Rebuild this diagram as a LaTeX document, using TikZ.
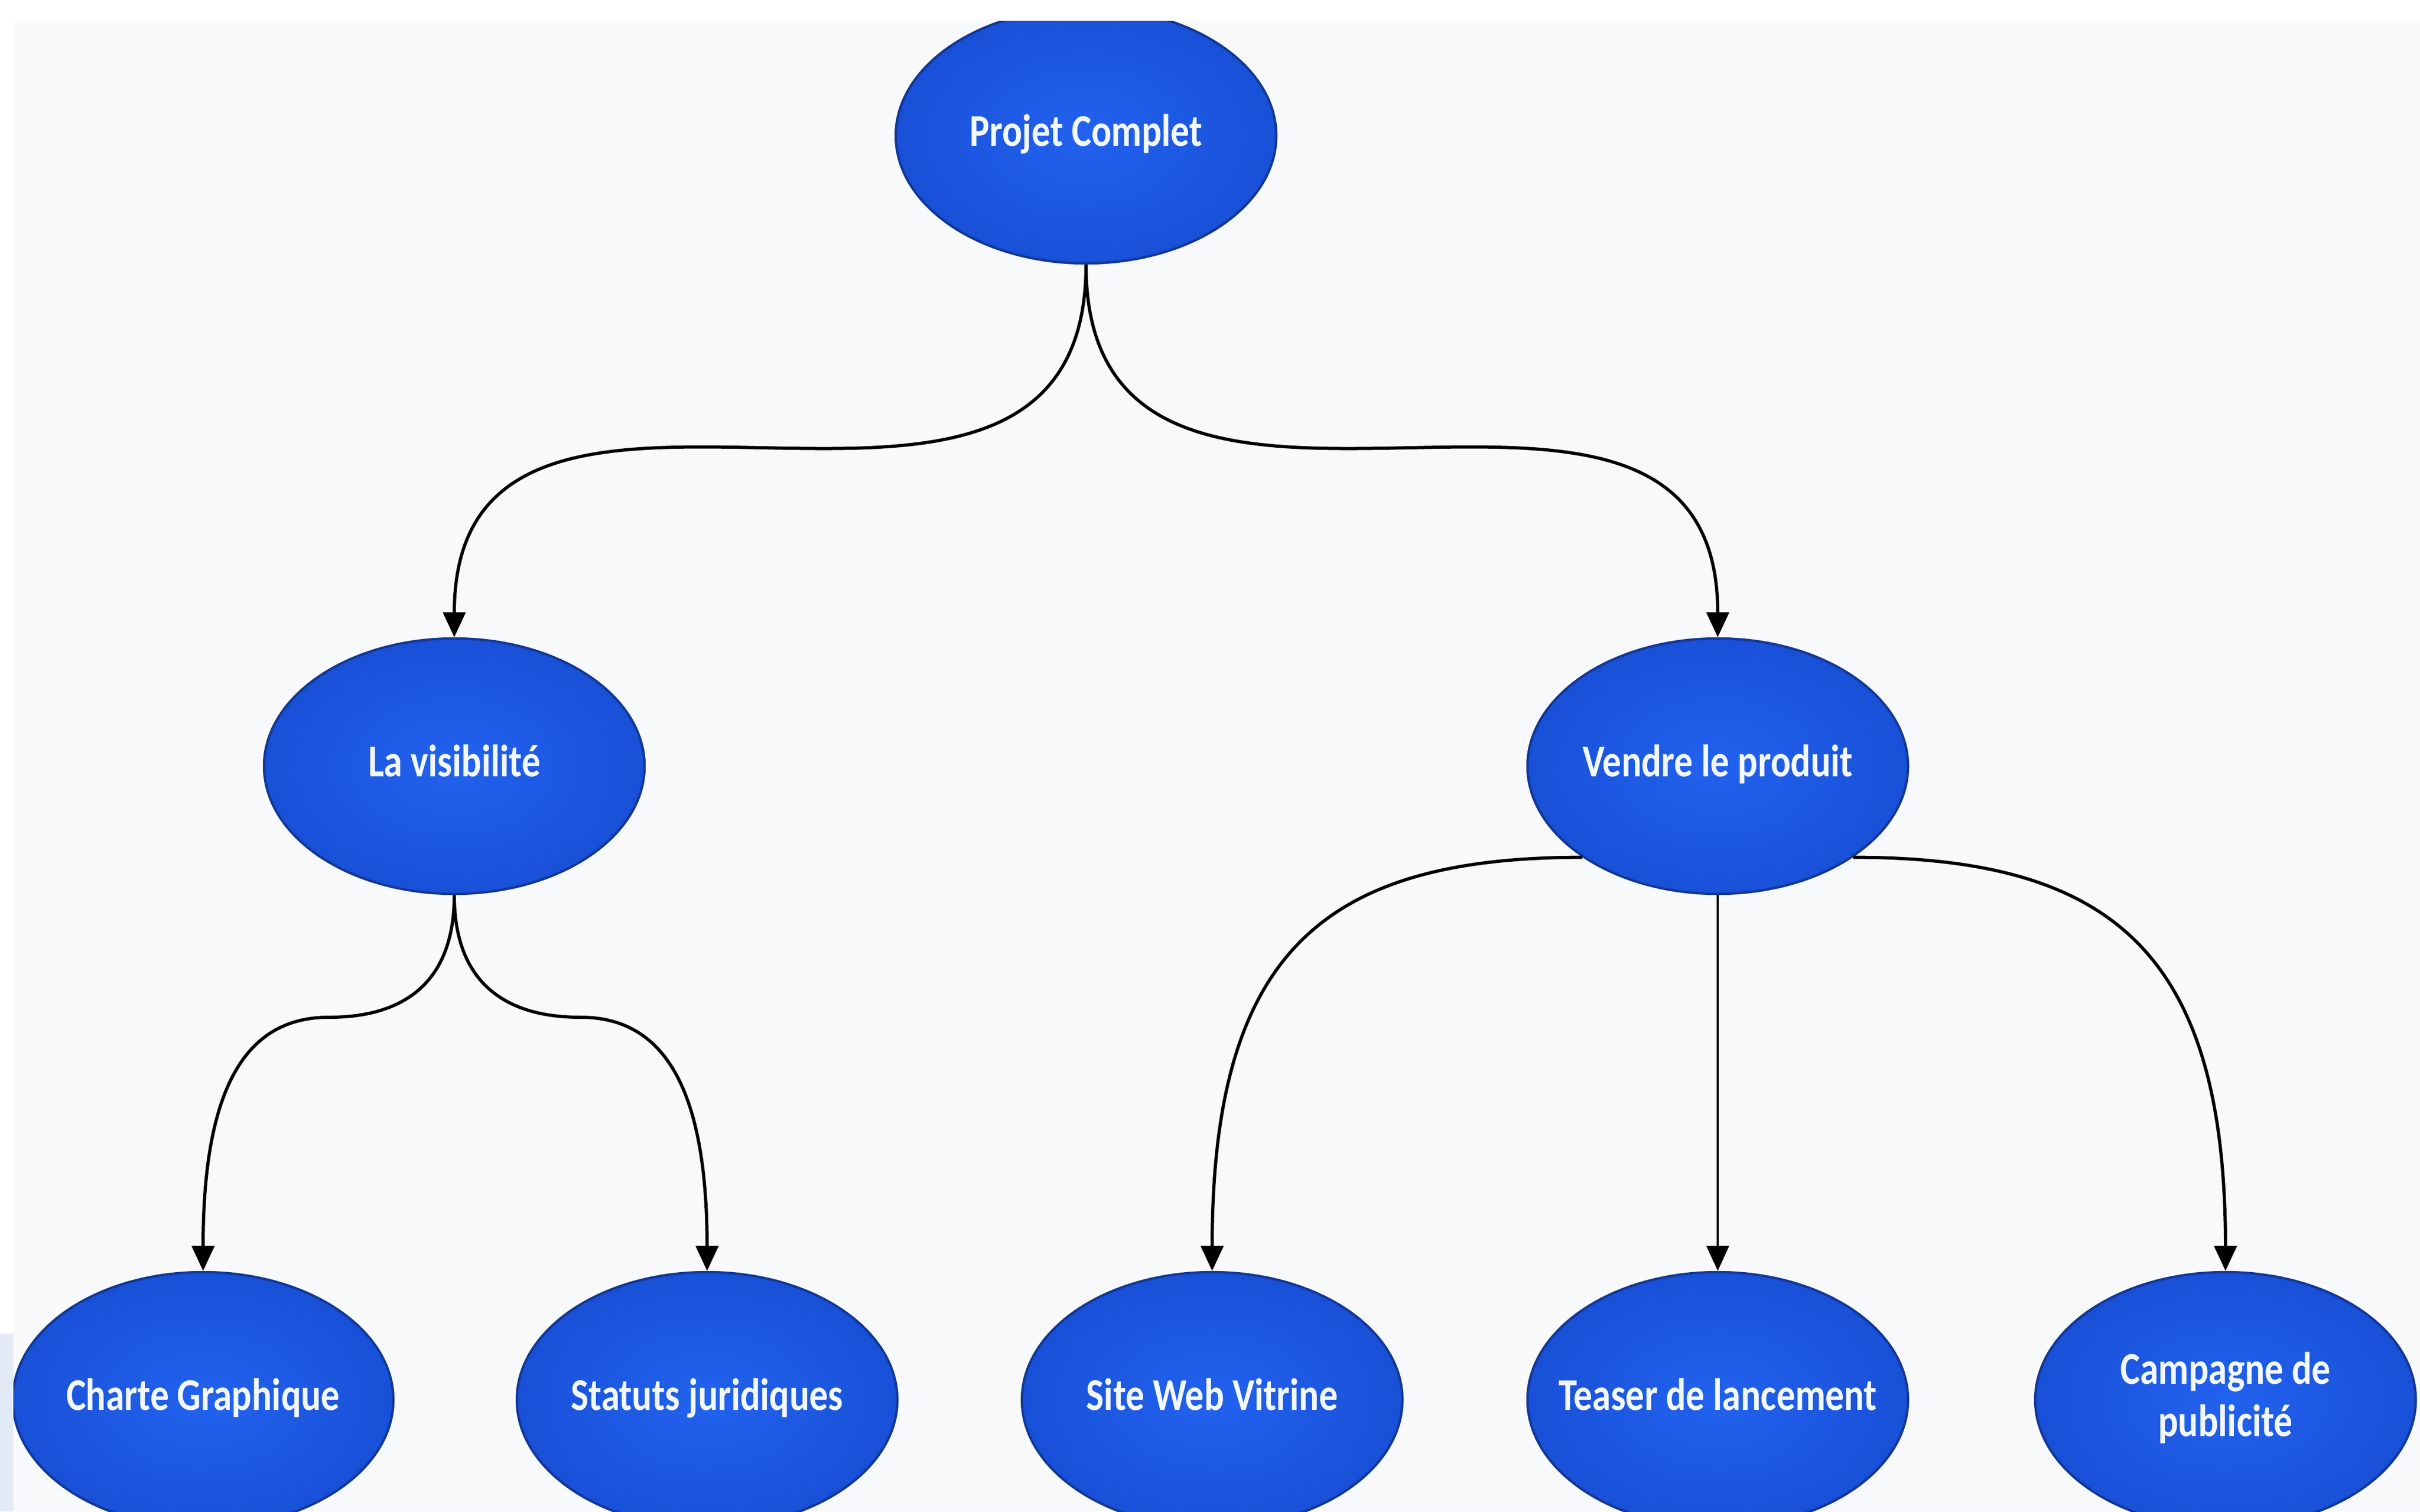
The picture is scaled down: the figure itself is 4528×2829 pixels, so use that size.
\documentclass[tikz,border=0pt]{standalone}
\usepackage{fontspec}
\setmainfont{Carlito}[FakeStretch=0.82]
\usetikzlibrary{calc,arrows.meta,shapes.geometric}
\definecolor{bg}{HTML}{F8F9FA}
\definecolor{nodein}{HTML}{2262EE}
\definecolor{nodeout}{HTML}{1950D8}
\definecolor{nodeline}{HTML}{123796}
\definecolor{txt}{HTML}{F2F8FF}
\definecolor{stripblue}{HTML}{E2EAF6}
\newcommand\lbl[1]{\makebox[0pt]{\strut #1}}
\newcommand\lbltwo[2]{\makebox[0pt]{\begin{tabular}{@{}c@{}}#1\\#2\end{tabular}}}
\begin{document}
\begin{tikzpicture}[x=0.1mm,y=-0.1mm,
  bub/.style={ellipse, draw=nodeline, line width=0.45mm, inner color=nodein,
    outer color=nodeout, minimum width=71.2mm, minimum height=47.8mm,
    inner sep=0pt, text=txt, font=\fontsize{24.2pt}{28pt}\selectfont\bfseries},
  edge/.style={line width=0.6mm, draw=black,
    -{Triangle[length=4.7mm,width=4.2mm]}}]
\useasboundingbox (0,0) rectangle (4528,2829);
\fill[bg] (0,0) rectangle (4528,2829);

\node[bub] (proj) at (2032,254) {\lbl{Projet Complet}};
\node[bub] (vis) at (850,1434) {\lbl{La visibilité}};
\node[bub] (vend) at (3214,1434) {\lbl{Vendre le produit}};
\node[bub] (chart) at (380,2620) {\lbl{Charte Graphique}};
\node[bub] (stat) at (1323,2620) {\lbl{Statuts juridiques}};
\node[bub] (site) at (2268,2620) {\lbl{Site Web Vitrine}};
\node[bub] (teas) at (3214,2620) {\lbl{Teaser de lancement}};
\node[bub] (camp) at (4164,2620) {\lbltwo{Campagne de}{publicité}};

% level 1 -> level 2
\draw[edge] (proj.south) .. controls (proj.south |- vis.north) and (vis.north |- proj.south) .. (vis.north);
\draw[edge] (proj.south) .. controls (proj.south |- vend.north) and (vend.north |- proj.south) .. (vend.north);

% La visibilite -> children
\coordinate (yB) at (0,1904);
\coordinate (c1) at ($(vis.south)!0.5!(chart.north)$);
\coordinate (c2) at ($(vis.south)!0.5!(stat.north)$);
\coordinate (m1) at (c1 |- yB);
\coordinate (m2) at (c2 |- yB);
\draw[edge] (vis.south) .. controls +(0,206) and +(86,0) .. (m1)
  .. controls +(-164,0) and +(0,-327) .. (chart.north);
\draw[edge] (vis.south) .. controls +(0,206) and +(-86,0) .. (m2)
  .. controls +(164,0) and +(0,-327) .. (stat.north);

% Vendre le produit -> children
\draw[edge] (vend.south west) .. controls +(-482,0) and +(0,-598) .. (site.north);
\draw[edge] (vend.south east) .. controls +(482,0) and +(0,-598) .. (camp.north);
\draw[edge, line width=0.4mm] (vend.south) -- (teas.north);

\fill[white] (0,0) rectangle (4528,39);
\fill[white] (0,39) rectangle (27,2496);
\fill[stripblue] (0,2496) rectangle (25,2829);
\end{tikzpicture}
\end{document}
